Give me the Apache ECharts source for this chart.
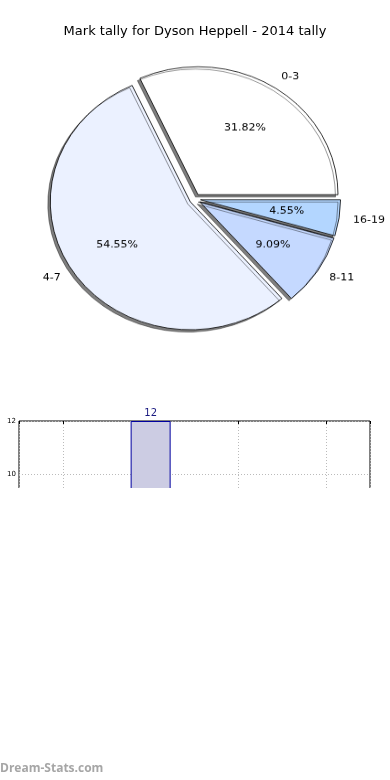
<!DOCTYPE html>
<html><head><meta charset="utf-8">
<script src="https://cdn.jsdelivr.net/npm/echarts@6/dist/echarts.min.js"></script>
<style>
html,body{margin:0;padding:0;background:#fff}
#wrap{position:relative;width:390px;height:780px}
#c{position:absolute;left:0;top:0;width:390px;height:780px}
#pie{position:absolute;left:0;top:0;width:390px;height:400px;transform:scaleY(0.914);transform-origin:0 199px;z-index:2}
</style>
</head><body><div id="wrap"><div id="c"></div><div id="pie"></div></div>
<script>
const titleText = 'Mark tally for Dyson Heppell - 2014 tally';
const categories = ['0-3', '4-7', '8-11', '16-19'];
const counts = [7, 12, 2, 1];
const sliceColors = ['#ffffff', '#ebf1ff', '#c5d9ff', '#b3d6ff'];
const barX = [0, 1, 2, 3];
const barValues = [7, 12, 2, 1];
const yTicks = [0, 2, 4, 6, 8, 10, 12];

const R = 140;
const CX = 195, CY = 199;
const EXPLODE = 0.04;
const total = counts.reduce((a, b) => a + b, 0);

const pieData = categories.map((c, i) => ({
  name: c, value: counts[i], selected: true,
  itemStyle: { color: sliceColors[i] }
}));
const pieData2 = categories.map((c, i) => ({
  name: c, value: counts[i], selected: true
}));

// Main chart: title, bar panel, watermark
const chart = echarts.init(document.getElementById('c'), null, { renderer: 'canvas' });
chart.setOption({
  animation: false,
  title: {
    text: titleText, left: 'center', top: 20,
    textStyle: { fontFamily: 'DejaVu Sans', fontSize: 13, fontWeight: 'normal', color: '#000' }
  },
  grid: { left: 19, right: 20, top: 421, height: 318, show: true, borderColor: '#000', borderWidth: 1, backgroundColor: 'transparent' },
  xAxis: [{
    type: 'value', min: -0.5, max: 3.5, position: 'bottom',
    axisLine: { show: false }, axisTick: { show: false }, axisLabel: { show: false },
    splitLine: { show: true, lineStyle: { color: '#bbbbbb', type: [1, 2], width: 1 } }
  }, {
    type: 'value', min: -0.5, max: 3.5, position: 'top',
    axisLine: { show: false }, axisTick: { show: true, inside: true, length: 3, lineStyle: { color: '#000' } },
    axisLabel: { show: false }, splitLine: { show: false }
  }],
  yAxis: {
    type: 'value', min: yTicks[0], max: yTicks[yTicks.length - 1], interval: 2,
    axisLine: { show: false },
    axisTick: { show: false },
    axisLabel: { fontFamily: 'DejaVu Sans', fontSize: 7, color: '#000', margin: 3 },
    splitLine: { show: true, lineStyle: { color: '#bbbbbb', type: [1, 2], width: 1 } }
  },
  series: [{
    type: 'bar', xAxisIndex: 0, barWidth: 40,
    data: barX.map((x, i) => [x, barValues[i]]),
    itemStyle: { color: '#ccccE3', borderColor: '#0000a0', borderWidth: 1 },
    label: { show: true, position: 'top', distance: 3, fontFamily: 'DejaVu Sans', fontSize: 10, color: '#1a1a80' }
  }],
  graphic: [{
    type: 'rect', left: 0, top: 488, z: 100,
    shape: { width: 390, height: 292 }, style: { fill: '#fff' }
  }, {
    type: 'text', left: 0, top: 763, z: 101,
    style: { text: 'Dream-Stats.com', fill: '#a6a6a6', font: 'bold 12px "Open Sans"' }
  }]
});

// Pie chart (drawn in a vertically scaled layer so the pie is slightly elliptical like the original)
const pie = echarts.init(document.getElementById('pie'), null, { renderer: 'canvas' });
pie.setOption({
  animation: false,
  series: [{
    type: 'pie', center: [CX, CY], radius: [0, R],
    startAngle: 0, clockwise: false,
    selectedMode: 'multiple', selectedOffset: EXPLODE * R,
    avoidLabelOverlap: false,
    itemStyle: { borderColor: '#000', borderWidth: 0.8, shadowColor: 'rgba(0,0,0,0.5)', shadowBlur: 0, shadowOffsetX: -2.5, shadowOffsetY: 2.5 },
    label: { show: true, position: 'outside', formatter: '{b}', fontFamily: 'DejaVu Sans', fontSize: 11, color: '#000', distanceToLabelLine: 0 },
    labelLine: { show: false, length: 0.1 * R, length2: 0 },
    emphasis: { disabled: true },
    data: pieData
  }, {
    type: 'pie', center: [CX, CY], radius: [0, 1.2 * R],
    startAngle: 0, clockwise: false,
    selectedMode: 'multiple', selectedOffset: EXPLODE * R,
    avoidLabelOverlap: false, silent: true, z: 3,
    itemStyle: { color: 'rgba(0,0,0,0)', borderWidth: 0 },
    label: { show: true, position: 'inner', formatter: p => (p.value / total * 100).toFixed(2) + '%', fontFamily: 'DejaVu Sans', fontSize: 11, color: '#000' },
    labelLine: { show: false },
    emphasis: { disabled: true },
    data: pieData2
  }]
});
</script></body></html>
